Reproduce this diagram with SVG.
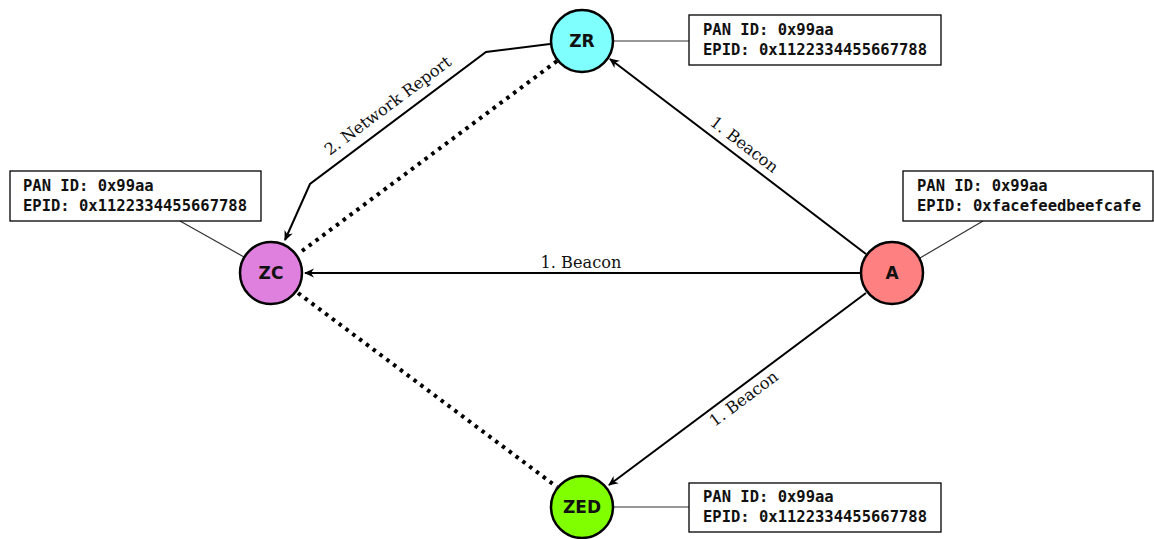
<svg xmlns="http://www.w3.org/2000/svg" width="1154" height="539" viewBox="0 0 1154 539">
  <defs>
    <marker id="arrow" viewBox="0 0 10 10" refX="9" refY="5" markerWidth="10" markerHeight="10" markerUnits="userSpaceOnUse" orient="auto">
      <path d="M0,0.5 L10,5 L0,9.5 L3,5 Z" fill="#000"/>
    </marker>
    <style>
      .node circle { stroke: #000; stroke-width: 2.5; }
      .node text { font-family: "DejaVu Sans", sans-serif; font-weight: bold; font-size: 17px; text-anchor: middle; dominant-baseline: central; fill: #111; }
      .info rect { fill: #fff; stroke: #000; stroke-width: 1.3; }
      .info text { font-family: "DejaVu Sans Mono", monospace; font-weight: bold; font-size: 15.5px; fill: #111; }
      .lead { stroke: #333; stroke-width: 1.2; fill: none; }
      .edge { stroke: #000; stroke-width: 2; fill: none; }
      .dots { stroke: #000; stroke-width: 4; stroke-dasharray: 3.5 5; fill: none; }
      .lbl { font-family: "DejaVu Serif", "Liberation Serif", serif; font-size: 16.2px; fill: #111; text-anchor: middle; }
    </style>
  </defs>

  <!-- connectors -->
  <g id="connectors">
    <!-- info box leaders -->
    <line class="lead" x1="614" y1="41" x2="689" y2="41"/>
    <line class="lead" x1="614" y1="507" x2="689" y2="507"/>
    <line class="lead" x1="180" y1="221" x2="244" y2="257"/>
    <line class="lead" x1="983" y1="221" x2="920" y2="258"/>

    <!-- dotted links -->
    <line class="dots" x1="557" y1="61" x2="298" y2="254"/>
    <line class="dots" x1="298" y1="293" x2="557" y2="487"/>

    <!-- beacons -->
    <line class="edge" x1="866" y1="254" x2="610" y2="59" marker-end="url(#arrow)"/>
    <line class="edge" x1="860" y1="273" x2="305" y2="273" marker-end="url(#arrow)"/>
    <line class="edge" x1="866" y1="293" x2="609" y2="485" marker-end="url(#arrow)"/>

    <!-- network report -->
    <polyline class="edge" points="550,44 486,52 310,184 285,240" marker-end="url(#arrow)"/>

    <text class="lbl" x="581" y="268">1. Beacon</text>
    <text class="lbl" transform="translate(741,149) rotate(37.5)">1. Beacon</text>
    <text class="lbl" transform="translate(747,403) rotate(-36.8)">1. Beacon</text>
    <text class="lbl" transform="translate(391,110) rotate(-36.8)">2. Network Report</text>
  </g>

  <!-- nodes -->
  <g id="ZR" class="node">
    <circle cx="582" cy="41" r="31" fill="#80ffff"/>
    <text x="582" y="41">ZR</text>
  </g>
  <g id="ZC" class="node">
    <circle cx="271" cy="273" r="31" fill="#df80df"/>
    <text x="271" y="273">ZC</text>
  </g>
  <g id="A" class="node">
    <circle cx="892" cy="273" r="31" fill="#ff8080"/>
    <text x="892" y="273">A</text>
  </g>
  <g id="ZED" class="node">
    <circle cx="582" cy="507" r="31" fill="#80ff00"/>
    <text x="582" y="507">ZED</text>
  </g>

  <!-- info boxes -->
  <g id="info-ZR" class="info">
    <rect x="689" y="15" width="252" height="50"/>
    <text x="703" y="35">PAN ID: 0x99aa</text>
    <text x="703" y="55">EPID: 0x1122334455667788</text>
  </g>
  <g id="info-ZC" class="info">
    <rect x="10" y="171" width="251" height="50"/>
    <text x="23" y="191">PAN ID: 0x99aa</text>
    <text x="23" y="211">EPID: 0x1122334455667788</text>
  </g>
  <g id="info-A" class="info">
    <rect x="903" y="171" width="250" height="50"/>
    <text x="917" y="191">PAN ID: 0x99aa</text>
    <text x="917" y="211">EPID: 0xfacefeedbeefcafe</text>
  </g>
  <g id="info-ZED" class="info">
    <rect x="689" y="483" width="252" height="49"/>
    <text x="703" y="502">PAN ID: 0x99aa</text>
    <text x="703" y="522">EPID: 0x1122334455667788</text>
  </g>
</svg>
